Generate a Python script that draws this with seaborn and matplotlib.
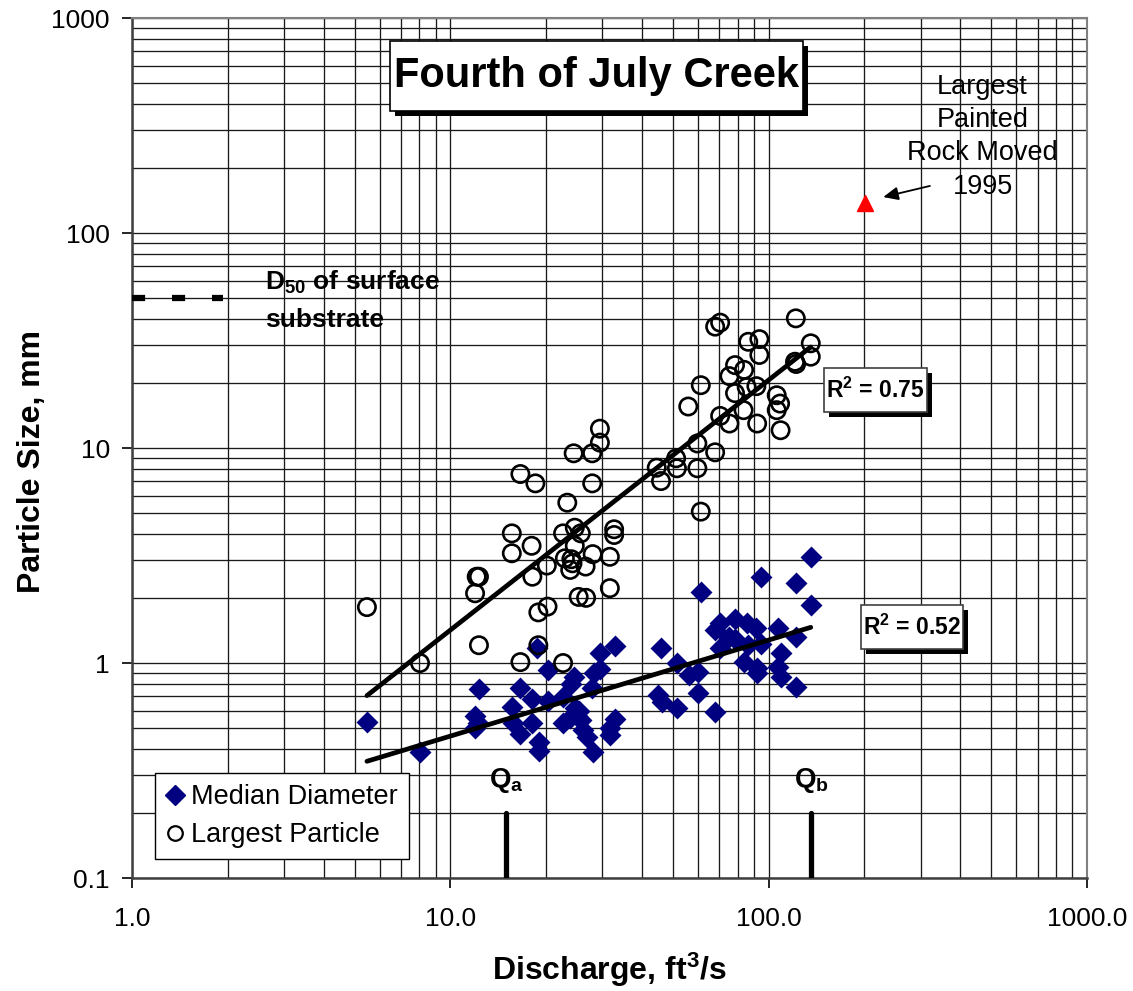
import numpy as np
import pandas as pd
import matplotlib
matplotlib.use("Agg")
import matplotlib.pyplot as plt
import matplotlib.patheffects as pe
from matplotlib.lines import Line2D
from matplotlib.patches import Rectangle
from matplotlib.ticker import FixedLocator, FixedFormatter, LogLocator, NullFormatter
import seaborn as sns

# ---------------- data ----------------
largest_q = [5.47, 8.03, 11.96, 12.1, 12.3, 12.3, 15.6, 15.6, 16.6, 16.6, 18.5, 18.0,
             18.1, 18.9, 20.1, 18.9, 20.2, 23.3, 22.6, 22.6, 24.6, 25.7, 24.6, 22.9,
             24.0, 23.8, 24.2, 26.6, 28.0, 31.7, 32.7, 32.7, 31.7, 25.3, 26.7, 24.4,
             27.9, 29.5, 29.5, 27.9, 44.5, 45.9, 51.2, 51.5, 59.7, 59.7, 61.2, 61.2,
             55.9, 67.9, 67.9, 70.4, 70.4, 75.3, 75.3, 78.4, 83.7, 78.4, 83.4, 86.3,
             93.5, 93.5, 85.3, 91.5, 92.0, 106.0, 108.6, 106.0, 109.0, 121.7, 121.0,
             122.0, 135.6, 135.6]
largest_d = [1.82, 1.00, 2.11, 2.52, 2.52, 1.21, 4.01, 3.24, 7.57, 1.01, 6.85, 3.51,
             2.52, 1.21, 2.84, 1.72, 1.83, 5.57, 4.01, 1.00, 4.26, 4.01, 3.51, 3.07,
             3.04, 2.71, 2.91, 2.81, 3.21, 3.12, 4.19, 3.94, 2.23, 2.03, 2.01, 9.45,
             9.45, 12.3, 10.6, 6.85, 8.1, 7.02, 8.96, 8.05, 10.5, 8.05, 5.06, 19.6,
             15.6, 9.55, 36.7, 38.3, 14.1, 13.0, 21.6, 24.3, 23.1, 18.0, 15.0, 31.2,
             32.1, 27.1, 19.2, 19.4, 13.0, 17.6, 16.1, 15.0, 12.1, 40.1, 25.2,
             24.6, 30.7, 26.6]

median_q = [5.47, 8.03, 12.3, 11.97, 12.2, 11.97, 15.6, 15.7, 16.6, 16.6, 18.1, 18.1,
            18.7, 19.0, 19.0, 20.2, 20.2, 22.6, 22.6, 23.8, 24.4, 23.9, 24.6, 25.8,
            26.2, 26.8, 28.0, 27.8, 28.3, 29.5, 29.6, 32.9, 31.7, 32.9, 31.7, 45.9,
            45.0, 46.1, 51.5, 51.5, 56.3, 60.1, 60.1, 61.2, 67.9, 70.4, 67.9, 70.4,
            75.3, 78.4, 78.4, 85.3, 91.5, 83.4, 92.0, 92.0, 86.0, 94.4, 94.4, 106.6,
            109.0, 106.6, 109.0, 121.7, 121.7, 121.7, 135.6, 135.6, 25.3, 25.0]
median_d = [0.533, 0.387, 0.755, 0.569, 0.524, 0.497, 0.626, 0.524, 0.763, 0.467, 0.678, 0.524,
            1.18, 0.431, 0.391, 0.928, 0.668, 0.697, 0.524, 0.553, 0.864, 0.799, 0.616, 0.543,
            0.488, 0.454, 0.387, 0.763, 0.896, 1.11, 0.935, 1.20, 0.497, 0.547, 0.463, 1.17,
            0.710, 0.661, 0.616, 1.00, 0.88, 0.911, 0.723, 2.15, 0.594, 1.17, 1.42, 1.54,
            1.32, 1.30, 1.61, 1.53, 1.45, 1.01, 0.945, 0.90, 1.21, 1.23, 2.52, 1.45,
            1.11, 0.961, 0.864, 1.32, 2.35, 0.771, 3.12, 1.86, 0.60, 0.565]

painted_q = [201.0]
painted_d = [138.0]

d50_surface = 50.0
d50_q_range = [1.0, 1.93]
q_a = 15.0
q_b = 136.0
q_line_top = 0.2

r2_largest = 0.75
r2_median = 0.52

x_ticks = [1, 10, 100, 1000]
x_ticklabels = ["1.0", "10.0", "100.0", "1000.0"]
y_ticks = [0.1, 1, 10, 100, 1000]
y_ticklabels = ["0.1", "1", "10", "100", "1000"]

# ---------------- style ----------------
sns.set_style("white")
plt.rcParams["font.family"] = ["Liberation Sans", "DejaVu Sans"]
plt.rcParams["mathtext.fontset"] = "custom"
plt.rcParams["mathtext.rm"] = "Liberation Sans"
plt.rcParams["mathtext.bf"] = "Liberation Sans:bold"
plt.rcParams["mathtext.it"] = "Liberation Sans:italic"
plt.rcParams["mathtext.sf"] = "Liberation Sans"
for k in ("text.color", "axes.labelcolor", "xtick.color", "ytick.color"):
    plt.rcParams[k] = "black"

fig = plt.figure(figsize=(11.33, 9.91), dpi=100)
ax = fig.add_axes([0.1165, 0.114, 0.8429, 0.8678])
ax.set_xscale("log")
ax.set_yscale("log")
ax.set_xlim(1, 1000)
ax.set_ylim(0.1, 1000)

# grid (major + minor)
ax.xaxis.set_minor_locator(LogLocator(base=10, subs=np.arange(2, 10)))
ax.yaxis.set_minor_locator(LogLocator(base=10, subs=np.arange(2, 10)))
ax.xaxis.set_minor_formatter(NullFormatter())
ax.yaxis.set_minor_formatter(NullFormatter())
ax.grid(True, which="both", color="#1a1a1a", lw=0.95)
ax.set_axisbelow(True)

df_large = pd.DataFrame({"Discharge": largest_q, "Size": largest_d})
df_med = pd.DataFrame({"Discharge": median_q, "Size": median_d})

# fitted power-law trend lines (log-log regression, over data range)
def trend(df):
    b, a = np.polyfit(np.log10(df["Discharge"]), np.log10(df["Size"]), 1)
    xs = np.array([df["Discharge"].min(), df["Discharge"].max()])
    return pd.DataFrame({"Discharge": xs, "Size": 10 ** (a + b * np.log10(xs))})

sns.scatterplot(data=df_med, x="Discharge", y="Size", marker="D", s=125,
                color="#000080", edgecolor="#000080", linewidth=0, ax=ax, legend=False, zorder=3)
sns.scatterplot(data=df_large, x="Discharge", y="Size", marker="o", s=155,
                fc="none", ec="black", linewidth=1.9, ax=ax, legend=False, zorder=3)

sns.lineplot(data=trend(df_large), x="Discharge", y="Size", color="black", lw=3.4, ax=ax, zorder=4)
sns.lineplot(data=trend(df_med), x="Discharge", y="Size", color="black", lw=3.4, ax=ax, zorder=4)

# painted rock
ax.plot(painted_q, painted_d, marker="^", color="#ff0000", ms=12, ls="none", zorder=5)

# D50 of surface substrate dashed line
ax.plot(d50_q_range, [d50_surface, d50_surface], color="black", lw=4.5,
        dashes=(2.1, 4.3), solid_capstyle="butt", dash_capstyle="butt", zorder=4)

# Qa and Qb
for q in (q_a, q_b):
    ax.plot([q, q], [0.1, q_line_top], color="black", lw=3.8, solid_capstyle="round", zorder=4)
ax.text(q_a, 0.285, r"Q$_\mathbf{a}$", ha="center", va="center", fontsize=20, fontweight="bold")
ax.text(q_b, 0.285, r"Q$_\mathbf{b}$", ha="center", va="center", fontsize=20, fontweight="bold")

# axes / ticks
ax.xaxis.set_major_locator(FixedLocator(x_ticks))
ax.xaxis.set_major_formatter(FixedFormatter(x_ticklabels))
ax.yaxis.set_major_locator(FixedLocator(y_ticks))
ax.yaxis.set_major_formatter(FixedFormatter(y_ticklabels))
ax.tick_params(axis="both", which="major", direction="out", length=7, width=1.2,
               color="black", labelcolor="black", labelsize=19, left=True, bottom=True)
ax.tick_params(axis="x", which="major", pad=14)
ax.tick_params(axis="y", which="major", pad=9)
ax.tick_params(which="minor", length=0)
for side in ("left", "bottom"):
    ax.spines[side].set_color("#404040")
    ax.spines[side].set_linewidth(1.8)
for side in ("top", "right"):
    ax.spines[side].set_color("#808080")
    ax.spines[side].set_linewidth(1.5)

ax.set_xlabel(r"Discharge, ft$^\mathbf{3}$/s", fontsize=23, fontweight="bold", color="black")
ax.set_ylabel("Particle Size, mm", fontsize=23, fontweight="bold", color="black")
ax.xaxis.set_label_coords(0.5, -0.107)
ax.yaxis.set_label_coords(-0.105, 0.484)
ax.xaxis.label.set_va("center")
ax.yaxis.label.set_va("center")

shadow = [pe.SimplePatchShadow(offset=(3.6, -3.6), shadow_rgbFace="black", alpha=1.0), pe.Normal()]


def boxed_text(x0, y0, x1, y1, text, size, ec="black"):
    r = Rectangle((x0, y0), x1 - x0, y1 - y0, transform=ax.transAxes, fc="white",
                  ec=ec, lw=1.2, zorder=6)
    r.set_path_effects(shadow)
    ax.add_patch(r)
    ax.text((x0 + x1) / 2, (y0 + y1) / 2, text, transform=ax.transAxes, ha="center",
            va="center", fontsize=size, fontweight="bold", zorder=7)


# title box
boxed_text(0.2702, 0.8919, 0.7026, 0.9733, "Fourth of July Creek", 30)
# R² boxes
boxed_text(0.7246, 0.5419, 0.8325, 0.5930, r"R$^\mathbf{2}$ = " + f"{r2_largest:.2f}", 16.5, "#404040")
boxed_text(0.7634, 0.2663, 0.8702, 0.3174, r"R$^\mathbf{2}$ = " + f"{r2_median:.2f}", 16.5, "#404040")

# D50 label
ax.text(2.62, 59.2, r"D$_\mathbf{50}$ of surface", ha="left", va="center",
        fontsize=19, fontweight="bold", zorder=6)
ax.text(2.62, 39.4, "substrate", ha="left", va="center",
        fontsize=19, fontweight="bold", zorder=6)

# painted rock annotation
ax.text(470, 280, "Largest\nPainted\nRock Moved\n1995", ha="center", va="center",
        fontsize=19.5, linespacing=1.36, zorder=6)
ax.annotate("", xy=(229, 147), xytext=(321, 165.6),
            arrowprops=dict(arrowstyle="-|>,head_length=0.9,head_width=0.4",
                            color="black", lw=1.3, shrinkA=0, shrinkB=0), zorder=6)

# legend
handles = [
    Line2D([], [], marker="D", ls="none", color="#000080", ms=10.5),
    Line2D([], [], marker="o", ls="none", mfc="none", mec="black", mew=1.6, ms=10.5),
]
leg = ax.legend(handles, ["Median Diameter", "Largest Particle"], loc="lower left",
                bbox_to_anchor=(0.024, 0.022), borderaxespad=0, fontsize=19.5,
                frameon=True, fancybox=False, edgecolor="black", framealpha=1,
                handlelength=0.7, handletextpad=0.25, borderpad=0.4, labelspacing=0.45)
leg.get_frame().set_linewidth(1.0)
leg.set_zorder(8)

fig.savefig("out.png", dpi=100)
